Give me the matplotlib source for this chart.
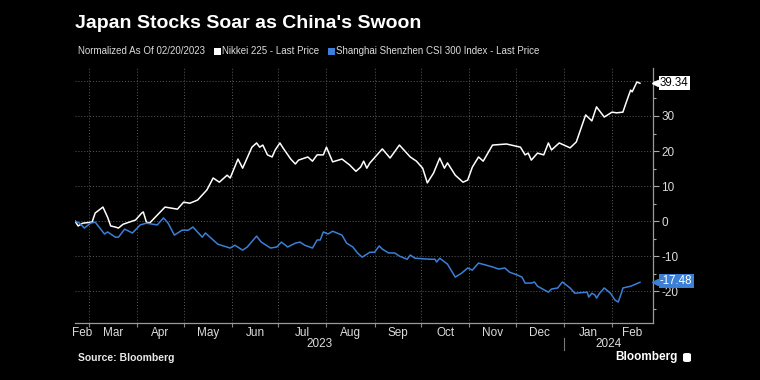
import matplotlib
matplotlib.use('Agg')
import matplotlib.pyplot as plt
import matplotlib.dates as mdates
import matplotlib.font_manager as fm
import matplotlib.transforms as mtransforms
from matplotlib.patches import Rectangle, FancyBboxPatch
import pandas as pd

# ---------------- data ----------------
start_date = '2023-02-20'
title = "Japan Stocks Soar as China's Swoon"
legend_note = 'Normalized As Of 02/20/2023'
series_names = ['Nikkei 225 - Last Price', 'Shanghai Shenzhen CSI 300 Index - Last Price']

nikkei_day = [0, 2, 5, 11, 13, 18, 21, 23, 26, 28, 31, 35, 39, 43, 44, 46, 48, 53, 58, 66,
              70, 74, 79, 85, 89, 93, 98, 100, 105, 108, 114, 117, 119, 121, 124, 127, 129,
              132, 134, 139, 142, 144, 150, 153, 156, 160, 162, 166, 172, 177, 181, 184, 186,
              188, 190, 198, 203, 209, 216, 220, 224, 227, 231, 235, 238, 240, 245, 250, 253,
              256, 260, 263, 269, 278, 287, 290, 292, 294, 298, 302, 305, 307, 312, 319, 323,
              329, 333, 336, 341, 346, 349, 353, 355, 358, 359, 362, 364]
nikkei_val = [0, -1.4, -0.6, -0.3, 2.3, 4.0, 1.1, -1.4, -1.7, -2.0, -0.9, -0.3, 0.3, 2.3, 2.6,
              -0.3, -0.6, 1.7, 4.0, 3.4, 5.4, 5.1, 6.0, 8.9, 12.3, 11.1, 13.1, 12.3, 17.7, 15.1,
              21.1, 22.3, 21.1, 21.7, 18.9, 18.3, 20.3, 22.3, 20.9, 17.7, 16.3, 17.4, 18.3, 17.1,
              18.9, 18.9, 21.1, 16.9, 17.7, 16.0, 14.2, 15.4, 17.1, 15.1, 16.6, 20.6, 18.0, 21.7,
              18.3, 17.1, 15.1, 10.9, 13.7, 18.0, 15.1, 16.6, 13.1, 11.1, 11.7, 15.4, 18.3, 17.1,
              21.7, 22.0, 21.1, 18.9, 19.4, 17.4, 19.4, 18.9, 22.3, 20.3, 22.3, 20.9, 22.6, 30.3,
              28.6, 32.6, 29.7, 31.1, 30.9, 31.1, 33.7, 37.4, 36.9, 39.7, 39.34]

csi_day = [0, 3, 6, 10, 13, 16, 19, 21, 26, 28, 32, 37, 42, 46, 53, 57, 60, 64, 69, 73, 76,
           82, 84, 87, 92, 100, 103, 108, 111, 117, 120, 126, 130, 133, 137, 142, 145, 148,
           153, 156, 158, 160, 163, 166, 172, 175, 179, 182, 185, 190, 193, 196, 198, 202,
           206, 209, 214, 216, 219, 229, 232, 233, 235, 240, 245, 249, 253, 256, 260, 265,
           269, 273, 277, 280, 285, 288, 290, 294, 296, 298, 305, 307, 311, 314, 319, 322,
           330, 331, 333, 335, 336, 338, 341, 345, 348, 350, 352, 353, 358, 364]
csi_val = [0, -0.6, -2.0, -0.6, -0.3, -2.0, -3.7, -3.1, -4.6, -4.6, -2.3, -3.4, -1.1, -0.6,
           -1.1, 0.9, -0.6, -4.0, -2.6, -2.6, -1.7, -4.6, -3.4, -4.6, -6.6, -7.7, -6.9, -8.3,
           -7.4, -4.3, -6.0, -7.7, -7.4, -6.0, -7.4, -6.3, -6.0, -6.9, -7.7, -5.4, -5.4, -3.1,
           -3.7, -2.9, -4.0, -6.3, -7.4, -9.1, -10.3, -8.9, -8.9, -7.1, -8.0, -9.1, -9.1,
           -10.0, -10.9, -9.7, -10.6, -10.9, -10.9, -11.7, -10.6, -12.3, -16.0, -14.9, -13.4,
           -14.0, -12.0, -12.6, -13.1, -13.7, -13.4, -14.6, -15.4, -16.0, -17.7, -17.7, -17.4,
           -18.6, -20.3, -19.4, -19.1, -17.4, -19.1, -20.6, -20.3, -21.7, -20.6, -21.1, -22.0,
           -20.6, -19.1, -20.6, -22.6, -23.1, -20.6, -19.1, -18.6, -17.48]

nikkei_last = 39.34
csi_last = -17.48
month_labels = ['Feb', 'Mar', 'Apr', 'May', 'Jun', 'Jul', 'Aug', 'Sep', 'Oct', 'Nov', 'Dec', 'Jan', 'Feb']
year_labels = ['2023', '2024']
y_ticks = [-20, -10, 0, 10, 20, 30, 40]
y_tick_labels = ['-20', '-10', '0', '10', '20', '30', '']

# ---------------- style ----------------
names = {f.name for f in fm.fontManager.ttflist}
narrow = 'Liberation Sans Narrow' if 'Liberation Sans Narrow' in names else 'Liberation Sans'
plt.rcParams['font.family'] = [narrow, 'DejaVu Sans']

BLUE = '#3b7fd6'
LABEL = '#dcdcdc'
GRID = '#5a5a5a'
W, H = 760, 380

fig = plt.figure(figsize=(7.6, 3.8), dpi=100, facecolor='black')
ax = fig.add_axes([75 / W, 1 - 323 / H, (653 - 75) / W, (323 - 68) / H])
ax.set_facecolor('black')

x0 = pd.Timestamp(start_date)
dn = x0 + pd.to_timedelta(nikkei_day, unit='D')
dc = x0 + pd.to_timedelta(csi_day, unit='D')
ax.plot(dn, nikkei_val, color='white', lw=1.1, zorder=3)
ax.plot(dc, csi_val, color=BLUE, lw=1.1, zorder=3)

xmin = mdates.date2num(x0)
xmax = xmin + 372.4
ax.set_xlim(xmin, xmax)
ax.set_ylim(-29.1, 43.7)

month_starts = pd.date_range('2023-03-01', '2024-02-01', freq='MS')
ms = [mdates.date2num(d) for d in month_starts]
ax.set_xticks(ms)
ax.set_xticklabels([''] * len(ms))
bounds = [xmin] + ms + [xmax]
mids = [(a + b) / 2 for a, b in zip(bounds[:-1], bounds[1:])]
ax.set_xticks(mids, minor=True)
ax.set_xticklabels(month_labels, minor=True)
ax.tick_params(axis='x', which='major', length=3, width=0.8, color='#888888', direction='out')
ax.tick_params(axis='x', which='minor', length=0, pad=3, labelcolor=LABEL, labelsize=8.5)

ax.yaxis.tick_right()
ax.set_yticks(y_ticks)
ax.set_yticklabels(y_tick_labels)
ax.set_yticks([v + 5 for v in y_ticks[:-1]] + [-25], minor=True)
ax.tick_params(axis='y', which='major', length=4, width=0.8, color='#aaaaaa', labelcolor=LABEL,
               labelsize=8.5, pad=2)
ax.tick_params(axis='y', which='minor', length=2, width=0.8, color='#aaaaaa')

ax.grid(True, which='major', color=GRID, ls=(0, (1, 2)), lw=0.7)
for s in ['left', 'top']:
    ax.spines[s].set_visible(False)
ax.spines['right'].set_color('#9a9a9a')
ax.spines['bottom'].set_color('#9a9a9a')
ax.spines['right'].set_linewidth(0.9)
ax.spines['bottom'].set_linewidth(0.9)

# year labels and divider
tr = mtransforms.blended_transform_factory(ax.transData, ax.transAxes)
jan1 = mdates.date2num(pd.Timestamp('2024-01-01'))
ax.text((xmin + jan1) / 2, -21 / 255, year_labels[0], transform=tr, ha='center', va='center',
        color=LABEL, fontsize=8.5)
ax.text((jan1 + xmax) / 2, -21 / 255, year_labels[1], transform=tr, ha='center', va='center',
        color=LABEL, fontsize=8.5)
ax.plot([jan1, jan1], [-15 / 255, -27 / 255], transform=tr, color='#777777', lw=0.8, clip_on=False)

# last value labels
tr2 = mtransforms.blended_transform_factory(ax.transAxes, ax.transData)
ax.plot([1.004], [nikkei_last], marker='<', color='white', ms=5, transform=tr2, clip_on=False,
        zorder=5)
ax.text(1.012, nikkei_last, f'{nikkei_last:.2f}', transform=tr2, ha='left', va='center',
        color='black', fontsize=8.3, zorder=6,
        bbox=dict(boxstyle='square,pad=0.1', fc='white', ec='none'))
ax.plot([1.004], [csi_last], marker='<', color=BLUE, ms=5, transform=tr2, clip_on=False, zorder=5)
ax.text(1.012, csi_last + 0.4, f'{csi_last:.2f}', transform=tr2, ha='left', va='center',
        color='white', fontsize=8.3, zorder=6,
        bbox=dict(boxstyle='square,pad=0.1', fc=BLUE, ec='none'))

# title, legend, footer
fig.text(75 / W, 1 - 24 / H, title, color='white', fontsize=14, weight='bold', va='center',
         family=['Liberation Sans', 'DejaVu Sans'])

renderer = fig.canvas.get_renderer()
lx = 78
t = fig.text(lx / W, 1 - 51 / H, legend_note, color=LABEL, fontsize=7.0, va='center')
lx = t.get_window_extent(renderer).x1 + 9
for name, col in zip(series_names, ['white', BLUE]):
    fig.patches.append(Rectangle((lx / W, 1 - 55 / H), 7 / W, 7 / H, transform=fig.transFigure,
                                 fc=col, ec='none'))
    t = fig.text((lx + 8) / W, 1 - 51 / H, name, color=LABEL, fontsize=7.0, va='center')
    lx = t.get_window_extent(renderer).x1 + 9

fig.text(78 / W, 1 - 358 / H, 'Source: Bloomberg', color='#e8e8e8', fontsize=7.5, weight='bold',
         va='center', family=['Liberation Sans', 'DejaVu Sans'])
fig.text(615 / W, 1 - 357 / H, 'Bloomberg', color='white', fontsize=8.5, weight='bold',
         va='center', family=['Liberation Sans', 'DejaVu Sans'])
fig.patches.append(FancyBboxPatch((683 / W, 1 - 362 / H), 8 / W, 9 / H,
                                  boxstyle='round,pad=0,rounding_size=0.004',
                                  transform=fig.transFigure, fc='white', ec='none'))

fig.savefig('out.png', dpi=100, facecolor='black')
